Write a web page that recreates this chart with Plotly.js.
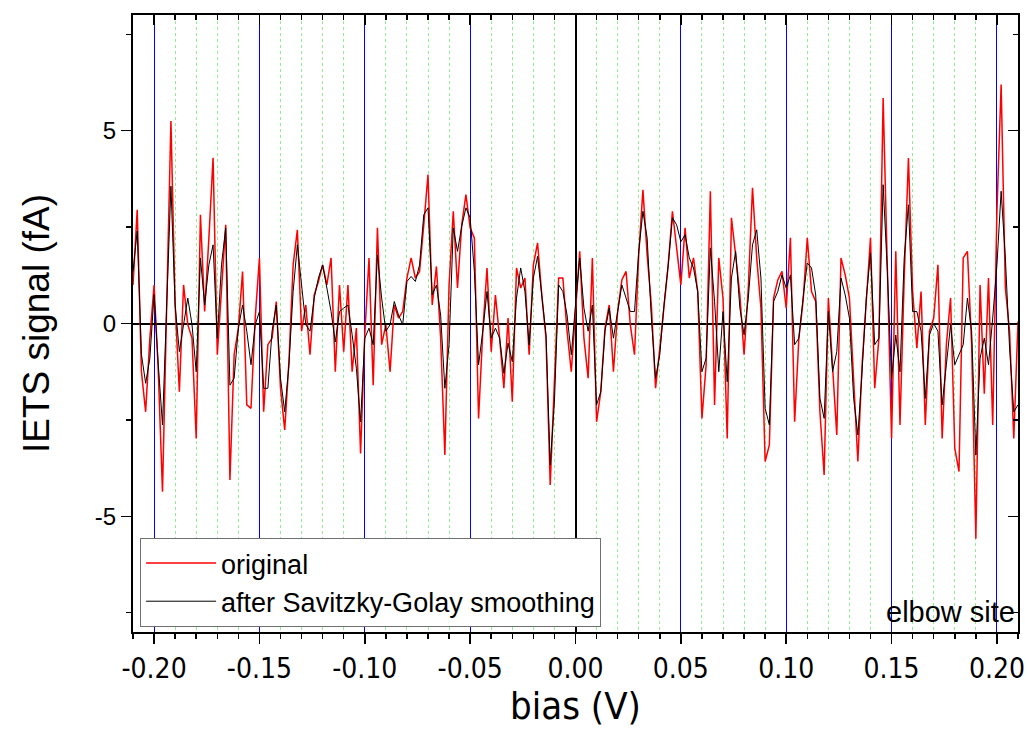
<!DOCTYPE html>
<html>
<head>
<meta charset="utf-8">
<script src="https://cdn.plot.ly/plotly-3.0.1.min.js"></script>
<style>html,body{margin:0;padding:0;background:#fff;}#chart{width:1029px;height:744px;}</style>
</head>
<body>
<div id="chart"></div>
<script>
// bias grid: -0.21 V to 0.21 V in 2 mV steps
var biasStart = -0.21, biasStep = 0.002, nPoints = 211;
var bias = [];
for (var i = 0; i < nPoints; i++) bias.push(+(biasStart + biasStep * i).toFixed(4));

// IETS signal (fA), original
var original = [
 1.0, 2.95, -1.25, -2.29, -0.38, 1.0, -1.25, -4.36, 0.48, 5.25,
 0.48, -1.77, 1.0, -0.03, -0.38, -2.98, 2.82, 0.31, 2.2, 4.3,
 -0.81, 1.0, 2.56, -4.06, -0.81, -0.12, 1.35, -2.11, -2.2, 0.14,
 1.7, -2.29, -0.55, -0.38, 0.57, -1.68, -2.76, -0.99, 1.52, 2.43,
 -0.2, 0.48, -0.81, 0.74, 1.09, 1.52, 1.0, 1.7, -1.25, 1.0,
 -0.73, 1.0, -1.25, -0.12, -3.37, -0.29, 1.7, -1.6, 2.48, -0.55,
 -0.03, -1.25, 0.48, 0.14, 0.31, 1.18, 1.7, 1.18, 1.35, 2.56,
 3.86, 0.48, 1.48, -0.38, -3.41, 1.0, 2.91, 0.92, 2.56, 3.34,
 2.48, 2.22, -2.46, -0.2, 1.44, -0.73, 0.74, -0.38, -1.68, 0.14,
 -2.03, 1.44, 0.92, 1.18, -0.81, 1.52, 2.09, 0.74, -0.38, -4.19,
 -1.5, 1.18, 1.18, -0.2, -1.25, 0.31, 1.87, -0.38, -1.42, 1.7,
 -2.55, -1.77, -0.12, 0.48, -1.25, 0.31, 1.13, 1.35, -0.03, -0.81,
 1.78, 3.47, 1.78, 0.48, -1.68, -0.64, 0.48, 1.52, 2.91, 1.96,
 1.0, 2.48, 1.18, 1.7, 0.83, -2.46, -1.07, 3.43, -2.11, 1.7,
 0.66, -2.98, 2.74, 1.78, 0.74, -0.81, 0.92, 3.52, 1.7, 0.4,
 -3.58, -3.15, 0.66, 1.13, 1.35, 0.4, 2.22, -2.55, -0.38, 0.57,
 2.22, 0.83, 0.57, -2.29, -3.93, 0.66, -1.07, -2.89, 1.7, 1.26,
 0.66, -1.42, -3.58, -1.07, 0.48, 2.22, -1.68, -0.38, 5.85, 1.18,
 -2.98, 1.87, -2.63, 1.18, 4.29, 0.83, -0.64, 0.83, -2.63, -0.2,
 0.14, 1.52, -2.98, -0.55, 0.66, -3.24, -3.84, 1.7, 1.87, -0.55,
 -5.58, 1.0, -1.82, 1.18, -2.63, 2.91, 6.2, 0.92, -0.2, -2.98,
 0.05
];

// IETS signal (fA), after Savitzky-Golay smoothing
var smoothed = [
 1.35, 2.4, -0.8, -1.55, -0.9, 0.75, -1.07, -2.63, 0.48, 3.56,
 0.48, -0.73, -0.03, 0.66, -0.03, -1.25, 1.7, 0.48, 1.52, 2.04,
 -0.38, 1.52, 2.48, -1.6, -1.42, -0.12, 0.48, -0.2, -1.07, -0.03,
 0.31, -1.68, -1.68, -0.2, 0.48, -1.42, -2.29, -1.07, 0.83, 2.04,
 1.0, -0.03, -0.2, 0.66, 1.18, 1.52, 0.92, 0.31, -0.48, 0.31,
 0.4, 0.48, -0.29, -1.16, -2.55, -0.38, -0.12, -0.55, 1.78, 0.66,
 -0.2, -0.03, 0.57, 0.22, -0.03, 1.09, 1.22, 1.09, 1.52, 2.82,
 3.0, 0.74, 1.0, 0.22, -1.68, -0.55, 2.48, 1.87, 2.52, 3.0,
 2.74, 1.35, -1.07, -0.2, 0.83, -0.38, -0.12, -0.38, -1.29, -0.51,
 -0.99, 0.66, 1.44, 0.83, -0.55, 1.18, 1.74, 0.66, -0.29, -3.67,
 -2.03, 1.0, 0.83, 0.22, -0.81, 0.48, 1.7, 0.4, -0.2, 0.48,
 -2.11, -1.77, -0.2, 0.4, -0.38, 0.31, 1.0, 0.66, 0.31, 0.31,
 1.87, 2.91, 2.22, 0.14, -1.42, -0.81, 0.48, 1.52, 2.74, 2.56,
 2.12, 2.3, 1.7, 1.44, 0.83, -1.25, -0.9, 1.96, 0.57, -1.25,
 0.31, -1.51, 1.18, 1.87, 0.4, -0.29, 0.66, 2.04, 2.43, 1.18,
 -2.2, -2.63, 0.57, 0.83, 1.26, 0.92, 1.26, -0.55, -0.38, 0.66,
 1.57, 1.44, 0.74, -1.94, -2.46, 0.31, -1.25, -0.73, 1.18, 0.74,
 0.14, -1.94, -2.89, -1.25, 0.66, 1.83, -0.55, -0.38, 3.6, 1.35,
 -1.42, -0.3, -1.25, 1.7, 3.08, 0.31, 0.31, -0.2, -1.94, -0.29,
 0.0, -0.2, -2.11, -1.07, -0.03, -1.07, -0.81, -0.55, 0.66, -0.2,
 -3.41, -0.9, -0.38, -1.07, 0.14, 1.52, 3.43, 1.7, -0.64, -2.29,
 -2.11
];

var seriesNames = ['original', 'after Savitzky-Golay smoothing'];
var xTickVals = [-0.20, -0.15, -0.10, -0.05, 0.00, 0.05, 0.10, 0.15, 0.20];
var xTickText = ['-0.20', '-0.15', '-0.10', '-0.05', '0.00', '0.05', '0.10', '0.15', '0.20'];
var yTickVals = [-5, 0, 5];
var yTickText = ['-5', '0', '5'];
var xTitle = 'bias (V)';
var yTitle = 'IETS signal (fA)';
var siteLabel = 'elbow site';

var narrow = 'Liberation Sans Narrow, Arial Narrow, DejaVu Sans Condensed, sans-serif';
var sans = 'Liberation Sans, Arial, Helvetica, sans-serif';

var traces = [
  {x: bias, y: original, name: seriesNames[0], type: 'scatter', mode: 'lines',
   line: {color: '#ff0000', width: 1.5}},
  {x: bias, y: smoothed, name: seriesNames[1], type: 'scatter', mode: 'lines',
   line: {color: '#000000', width: 1}},
  {x: [], y: [], xaxis: 'x2', yaxis: 'y2', showlegend: false, hoverinfo: 'skip', type: 'scatter', mode: 'lines'}
];

var layout = {
  width: 1029, height: 744,
  margin: {l: 133, r: 11, t: 15, b: 112},
  paper_bgcolor: '#ffffff', plot_bgcolor: '#ffffff',
  showlegend: true,
  legend: {
    x: 0.008, y: 0.008, xanchor: 'left', yanchor: 'bottom',
    bgcolor: '#ffffff', bordercolor: '#707070', borderwidth: 1,
    font: {family: sans, size: 27, color: '#000'},
    itemwidth: 70, tracegroupgap: 0
  },
  xaxis: {
    range: [-0.21, 0.21], tickmode: 'array', tickvals: xTickVals, ticktext: xTickText,
    ticks: 'outside', ticklen: 10, tickwidth: 1.5, tickcolor: '#000',
    showline: true, linecolor: '#000', linewidth: 2, mirror: true,
    showgrid: true, gridcolor: '#0000ff', gridwidth: 1,
    zeroline: true, zerolinecolor: '#000', zerolinewidth: 2,
    tickfont: {family: narrow, size: 28, color: '#000'},
    minor: {dtick: 0.01, tick0: 0, ticks: 'outside', ticklen: 5, tickwidth: 1.5, tickcolor: '#000',
            showgrid: true, gridcolor: '#90ee90', gridwidth: 1, griddash: 'dot'}
  },
  yaxis: {
    range: [-8, 8], tickmode: 'array', tickvals: yTickVals, ticktext: yTickText,
    ticks: 'outside', ticklen: 10, tickwidth: 1.5, tickcolor: '#000',
    showline: true, linecolor: '#000', linewidth: 2, mirror: true,
    showgrid: false,
    zeroline: true, zerolinecolor: '#000', zerolinewidth: 2,
    tickfont: {family: sans, size: 24, color: '#000'},
    title: {text: yTitle, font: {family: sans, size: 37, color: '#000'}, standoff: 34},
    minor: {dtick: 2.5, tick0: 0, ticks: 'outside', ticklen: 5, tickwidth: 1.5, tickcolor: '#000', showgrid: false}
  },
  xaxis2: {
    overlaying: 'x', side: 'top', anchor: 'y2', range: [-0.21, 0.21],
    dtick: 0.05, tick0: 0, ticks: 'inside', ticklen: 10, tickwidth: 1.5, tickcolor: '#000',
    showticklabels: false, showgrid: false, zeroline: false, showline: false,
    minor: {dtick: 0.01, tick0: 0, ticks: 'inside', ticklen: 5, tickwidth: 1.5, tickcolor: '#000', showgrid: false}
  },
  yaxis2: {
    overlaying: 'y', side: 'right', anchor: 'x2', range: [-8, 8],
    dtick: 5, tick0: 0, ticks: 'inside', ticklen: 10, tickwidth: 1.5, tickcolor: '#000',
    showticklabels: false, showgrid: false, zeroline: false, showline: false,
    minor: {dtick: 2.5, tick0: 0, ticks: 'inside', ticklen: 5, tickwidth: 1.5, tickcolor: '#000', showgrid: false}
  },
  annotations: [
    {text: siteLabel, xref: 'paper', yref: 'paper', x: 1, y: 0,
     xanchor: 'right', yanchor: 'bottom', xshift: -1, yshift: 2, showarrow: false,
     font: {family: sans, size: 29, color: '#000'}},
    {text: xTitle, xref: 'paper', yref: 'paper', x: 0.5, y: 0,
     xanchor: 'center', yanchor: 'top', yshift: -50, showarrow: false,
     font: {family: narrow, size: 38, color: '#000'}}
  ]
};

Plotly.newPlot('chart', traces, layout, {displayModeBar: false, staticPlot: true});
</script>
</body>
</html>
